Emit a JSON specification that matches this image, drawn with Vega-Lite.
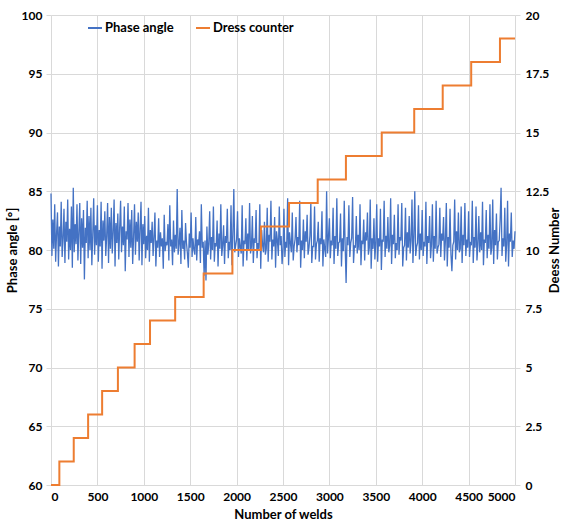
{
"$schema": "https://vega.github.io/schema/vega-lite/v6.json",
"width": 464, "height": 470,
"autosize": {"type": "none"},
"padding": {"left": 51, "top": 15, "right": 46, "bottom": 45},
"background": "white",
"config": {
 "font": "Lato",
 "view": {"stroke": null},
 "axis": {"gridColor": "#d9d9d9", "domain": false, "tickColor": "#d9d9d9", "tickSize": 5, "labelFont": "Lato", "labelFontWeight": "bold", "labelFontSize": 12, "labelColor": "#000", "titleFont": "Lato", "titleFontSize": 13, "titleFontWeight": "bold", "titleColor": "#000"},
 "legend": {"labelFont": "Lato"}
},
"layer": [
{
 "data": {"values": [
{"n":0,"a":84.8},{"n":10,"a":79.5},{"n":20,"a":82.6},{"n":30,"a":80.1},{"n":40,"a":83.9},{"n":50,"a":79.0},{"n":60,"a":81.4},{"n":70,"a":83.2},{"n":80,"a":78.6},{"n":90,"a":82.0},
{"n":100,"a":80.3},{"n":110,"a":84.1},{"n":120,"a":79.4},{"n":130,"a":81.0},{"n":140,"a":83.5},{"n":150,"a":78.9},{"n":160,"a":82.4},{"n":170,"a":80.7},{"n":180,"a":84.3},{"n":190,"a":79.2},
{"n":200,"a":81.8},{"n":210,"a":80.0},{"n":220,"a":83.7},{"n":230,"a":78.5},{"n":240,"a":85.3},{"n":250,"a":79.8},{"n":260,"a":82.2},{"n":270,"a":80.5},{"n":280,"a":83.9},{"n":290,"a":79.1},
{"n":300,"a":81.5},{"n":310,"a":84.0},{"n":320,"a":78.8},{"n":330,"a":82.7},{"n":340,"a":80.2},{"n":350,"a":83.4},{"n":360,"a":77.5},{"n":370,"a":81.9},{"n":380,"a":80.6},{"n":390,"a":84.2},
{"n":400,"a":79.3},{"n":410,"a":82.9},{"n":420,"a":80.0},{"n":430,"a":83.6},{"n":440,"a":78.7},{"n":450,"a":81.3},{"n":460,"a":84.4},{"n":470,"a":79.6},{"n":480,"a":82.1},{"n":490,"a":80.4},
{"n":500,"a":83.8},{"n":510,"a":79.0},{"n":520,"a":81.7},{"n":530,"a":80.3},{"n":540,"a":84.1},{"n":550,"a":78.4},{"n":560,"a":82.5},{"n":570,"a":80.8},{"n":580,"a":83.3},{"n":590,"a":79.5},
{"n":600,"a":81.2},{"n":610,"a":84.0},{"n":620,"a":78.9},{"n":630,"a":82.8},{"n":640,"a":80.1},{"n":650,"a":83.6},{"n":660,"a":79.7},{"n":670,"a":81.5},{"n":680,"a":84.3},{"n":690,"a":78.6},
{"n":700,"a":82.3},{"n":710,"a":80.6},{"n":720,"a":83.1},{"n":730,"a":79.2},{"n":740,"a":81.9},{"n":750,"a":84.2},{"n":760,"a":79.8},{"n":770,"a":82.0},{"n":780,"a":80.4},{"n":790,"a":83.7},
{"n":800,"a":78.2},{"n":810,"a":81.6},{"n":820,"a":80.9},{"n":830,"a":84.0},{"n":840,"a":79.4},{"n":850,"a":82.6},{"n":860,"a":80.2},{"n":870,"a":83.4},{"n":880,"a":78.8},{"n":890,"a":81.1},
{"n":900,"a":83.9},{"n":910,"a":79.6},{"n":920,"a":82.4},{"n":930,"a":80.7},{"n":940,"a":83.2},{"n":950,"a":79.1},{"n":960,"a":81.8},{"n":970,"a":84.1},{"n":980,"a":78.7},{"n":990,"a":82.2},
{"n":1000,"a":80.5},{"n":1010,"a":82.9},{"n":1020,"a":79.3},{"n":1030,"a":81.2},{"n":1040,"a":80.0},{"n":1050,"a":83.6},{"n":1060,"a":79.0},{"n":1070,"a":81.7},{"n":1080,"a":80.6},{"n":1090,"a":82.4},
{"n":1100,"a":79.5},{"n":1110,"a":81.1},{"n":1120,"a":83.2},{"n":1130,"a":78.6},{"n":1140,"a":80.8},{"n":1150,"a":80.2},{"n":1160,"a":82.7},{"n":1170,"a":79.4},{"n":1180,"a":81.5},{"n":1190,"a":80.3},
{"n":1200,"a":81.0},{"n":1210,"a":78.4},{"n":1220,"a":83.0},{"n":1230,"a":79.9},{"n":1240,"a":80.7},{"n":1250,"a":80.4},{"n":1260,"a":82.2},{"n":1270,"a":79.1},{"n":1280,"a":83.8},{"n":1290,"a":80.3},
{"n":1300,"a":80.9},{"n":1310,"a":78.7},{"n":1320,"a":82.5},{"n":1330,"a":79.8},{"n":1340,"a":81.3},{"n":1350,"a":80.1},{"n":1360,"a":85.2},{"n":1370,"a":79.6},{"n":1380,"a":80.5},{"n":1390,"a":81.9},
{"n":1400,"a":78.8},{"n":1410,"a":83.4},{"n":1420,"a":80.1},{"n":1430,"a":80.8},{"n":1440,"a":79.2},{"n":1450,"a":82.3},{"n":1460,"a":80.6},{"n":1470,"a":79.7},{"n":1480,"a":78.5},{"n":1490,"a":81.4},
{"n":1500,"a":80.2},{"n":1510,"a":83.2},{"n":1520,"a":79.4},{"n":1530,"a":81.0},{"n":1540,"a":80.0},{"n":1550,"a":79.6},{"n":1560,"a":82.8},{"n":1570,"a":79.1},{"n":1580,"a":80.9},{"n":1590,"a":80.4},
{"n":1600,"a":81.6},{"n":1610,"a":78.9},{"n":1620,"a":83.9},{"n":1630,"a":80.2},{"n":1640,"a":80.7},{"n":1650,"a":77.8},{"n":1660,"a":80.8},{"n":1670,"a":77.4},{"n":1680,"a":82.0},{"n":1690,"a":79.6},
{"n":1700,"a":80.5},{"n":1710,"a":83.3},{"n":1720,"a":79.2},{"n":1730,"a":81.1},{"n":1740,"a":80.0},{"n":1750,"a":83.7},{"n":1760,"a":79.0},{"n":1770,"a":80.6},{"n":1780,"a":80.3},{"n":1790,"a":82.5},
{"n":1800,"a":78.6},{"n":1810,"a":81.4},{"n":1820,"a":80.1},{"n":1830,"a":83.9},{"n":1840,"a":79.5},{"n":1850,"a":80.4},{"n":1860,"a":82.1},{"n":1870,"a":78.8},{"n":1880,"a":81.2},{"n":1890,"a":80.6},
{"n":1900,"a":83.5},{"n":1910,"a":79.3},{"n":1920,"a":80.7},{"n":1930,"a":80.0},{"n":1940,"a":83.8},{"n":1950,"a":78.7},{"n":1960,"a":81.3},{"n":1970,"a":85.2},{"n":1980,"a":79.8},{"n":1990,"a":80.4},
{"n":2000,"a":80.9},{"n":2010,"a":83.3},{"n":2020,"a":79.4},{"n":2030,"a":81.0},{"n":2040,"a":80.2},{"n":2050,"a":79.7},{"n":2060,"a":83.8},{"n":2070,"a":78.6},{"n":2080,"a":80.8},{"n":2090,"a":80.5},
{"n":2100,"a":82.7},{"n":2110,"a":79.1},{"n":2120,"a":81.4},{"n":2130,"a":80.0},{"n":2140,"a":84.0},{"n":2150,"a":79.7},{"n":2160,"a":80.3},{"n":2170,"a":82.9},{"n":2180,"a":78.9},{"n":2190,"a":81.0},
{"n":2200,"a":80.6},{"n":2210,"a":83.4},{"n":2220,"a":79.3},{"n":2230,"a":80.6},{"n":2240,"a":80.1},{"n":2250,"a":83.9},{"n":2260,"a":78.4},{"n":2270,"a":81.7},{"n":2280,"a":80.4},{"n":2290,"a":79.8},
{"n":2300,"a":82.4},{"n":2310,"a":79.6},{"n":2320,"a":80.1},{"n":2330,"a":83.6},{"n":2340,"a":79.0},{"n":2350,"a":81.3},{"n":2360,"a":80.7},{"n":2370,"a":84.2},{"n":2380,"a":79.2},{"n":2390,"a":80.9},
{"n":2400,"a":80.3},{"n":2410,"a":82.8},{"n":2420,"a":78.5},{"n":2430,"a":81.6},{"n":2440,"a":80.8},{"n":2450,"a":79.5},{"n":2460,"a":83.7},{"n":2470,"a":80.4},{"n":2480,"a":81.2},{"n":2490,"a":78.8},
{"n":2500,"a":80.0},{"n":2510,"a":83.5},{"n":2520,"a":79.4},{"n":2530,"a":80.7},{"n":2540,"a":80.2},{"n":2550,"a":84.4},{"n":2560,"a":78.7},{"n":2570,"a":81.5},{"n":2580,"a":80.6},{"n":2590,"a":79.8},
{"n":2600,"a":83.2},{"n":2610,"a":79.1},{"n":2620,"a":80.3},{"n":2630,"a":80.9},{"n":2640,"a":82.8},{"n":2650,"a":79.8},{"n":2660,"a":81.1},{"n":2670,"a":80.4},{"n":2680,"a":84.2},{"n":2690,"a":78.5},
{"n":2700,"a":80.8},{"n":2710,"a":80.0},{"n":2720,"a":82.6},{"n":2730,"a":79.3},{"n":2740,"a":81.6},{"n":2750,"a":80.7},{"n":2760,"a":83.0},{"n":2770,"a":79.6},{"n":2780,"a":80.2},{"n":2790,"a":81.2},
{"n":2800,"a":84.0},{"n":2810,"a":78.9},{"n":2820,"a":80.3},{"n":2830,"a":80.3},{"n":2840,"a":83.7},{"n":2850,"a":79.2},{"n":2860,"a":80.5},{"n":2870,"a":80.8},{"n":2880,"a":82.4},{"n":2890,"a":79.0},
{"n":2900,"a":81.0},{"n":2910,"a":80.5},{"n":2920,"a":83.3},{"n":2930,"a":78.6},{"n":2940,"a":80.9},{"n":2950,"a":80.1},{"n":2960,"a":79.4},{"n":2970,"a":85.0},{"n":2980,"a":79.7},{"n":2990,"a":81.1},
{"n":3000,"a":82.7},{"n":3010,"a":79.3},{"n":3020,"a":80.8},{"n":3030,"a":80.4},{"n":3040,"a":83.6},{"n":3050,"a":78.8},{"n":3060,"a":81.2},{"n":3070,"a":80.1},{"n":3080,"a":84.4},{"n":3090,"a":79.5},
{"n":3100,"a":80.6},{"n":3110,"a":80.7},{"n":3120,"a":83.1},{"n":3130,"a":78.6},{"n":3140,"a":81.0},{"n":3150,"a":79.9},{"n":3160,"a":84.2},{"n":3170,"a":80.3},{"n":3180,"a":77.2},{"n":3190,"a":81.1},
{"n":3200,"a":80.4},{"n":3210,"a":83.8},{"n":3220,"a":79.4},{"n":3230,"a":80.6},{"n":3240,"a":81.0},{"n":3250,"a":84.5},{"n":3260,"a":78.9},{"n":3270,"a":80.4},{"n":3280,"a":80.2},{"n":3290,"a":82.9},
{"n":3300,"a":79.7},{"n":3310,"a":81.3},{"n":3320,"a":80.0},{"n":3330,"a":83.9},{"n":3340,"a":78.7},{"n":3350,"a":80.8},{"n":3360,"a":80.5},{"n":3370,"a":82.6},{"n":3380,"a":79.1},{"n":3390,"a":81.5},
{"n":3400,"a":80.8},{"n":3410,"a":83.2},{"n":3420,"a":79.6},{"n":3430,"a":80.2},{"n":3440,"a":84.3},{"n":3450,"a":78.4},{"n":3460,"a":81.0},{"n":3470,"a":80.1},{"n":3480,"a":82.7},{"n":3490,"a":79.2},
{"n":3500,"a":80.6},{"n":3510,"a":83.9},{"n":3520,"a":79.0},{"n":3530,"a":81.0},{"n":3540,"a":80.3},{"n":3550,"a":83.5},{"n":3560,"a":78.3},{"n":3570,"a":80.9},{"n":3580,"a":80.7},{"n":3590,"a":84.2},
{"n":3600,"a":79.4},{"n":3610,"a":81.2},{"n":3620,"a":80.1},{"n":3630,"a":82.8},{"n":3640,"a":79.8},{"n":3650,"a":80.4},{"n":3660,"a":84.4},{"n":3670,"a":78.8},{"n":3680,"a":81.3},{"n":3690,"a":80.5},
{"n":3700,"a":83.0},{"n":3710,"a":79.3},{"n":3720,"a":80.6},{"n":3730,"a":80.0},{"n":3740,"a":83.9},{"n":3750,"a":79.6},{"n":3760,"a":81.1},{"n":3770,"a":80.8},{"n":3780,"a":84.0},{"n":3790,"a":78.6},
{"n":3800,"a":80.2},{"n":3810,"a":80.4},{"n":3820,"a":83.6},{"n":3830,"a":79.1},{"n":3840,"a":81.5},{"n":3850,"a":80.2},{"n":3860,"a":82.9},{"n":3870,"a":79.7},{"n":3880,"a":80.8},{"n":3890,"a":84.3},
{"n":3900,"a":78.9},{"n":3910,"a":81.1},{"n":3920,"a":85.0},{"n":3930,"a":79.5},{"n":3940,"a":80.3},{"n":3950,"a":80.6},{"n":3960,"a":83.8},{"n":3970,"a":79.2},{"n":3980,"a":81.4},{"n":3990,"a":80.0},
{"n":4000,"a":83.4},{"n":4010,"a":79.5},{"n":4020,"a":80.7},{"n":4030,"a":80.3},{"n":4040,"a":84.1},{"n":4050,"a":78.8},{"n":4060,"a":81.2},{"n":4070,"a":80.6},{"n":4080,"a":82.9},{"n":4090,"a":79.3},
{"n":4100,"a":80.5},{"n":4110,"a":83.9},{"n":4120,"a":79.0},{"n":4130,"a":81.2},{"n":4140,"a":80.1},{"n":4150,"a":84.2},{"n":4160,"a":79.7},{"n":4170,"a":80.2},{"n":4180,"a":80.5},{"n":4190,"a":83.6},
{"n":4200,"a":79.4},{"n":4210,"a":81.4},{"n":4220,"a":80.8},{"n":4230,"a":82.8},{"n":4240,"a":79.1},{"n":4250,"a":80.8},{"n":4260,"a":84.0},{"n":4270,"a":78.6},{"n":4280,"a":81.1},{"n":4290,"a":80.2},
{"n":4300,"a":83.5},{"n":4310,"a":79.6},{"n":4320,"a":78.2},{"n":4330,"a":80.4},{"n":4340,"a":80.7},{"n":4350,"a":84.3},{"n":4360,"a":79.2},{"n":4370,"a":81.6},{"n":4380,"a":80.0},{"n":4390,"a":83.2},
{"n":4400,"a":79.8},{"n":4410,"a":80.1},{"n":4420,"a":83.7},{"n":4430,"a":78.9},{"n":4440,"a":81.3},{"n":4450,"a":80.4},{"n":4460,"a":84.0},{"n":4470,"a":79.5},{"n":4480,"a":80.9},{"n":4490,"a":80.2},
{"n":4500,"a":83.3},{"n":4510,"a":79.4},{"n":4520,"a":80.6},{"n":4530,"a":80.5},{"n":4540,"a":84.2},{"n":4550,"a":78.9},{"n":4560,"a":81.1},{"n":4570,"a":80.2},{"n":4580,"a":83.7},{"n":4590,"a":79.1},
{"n":4600,"a":80.4},{"n":4610,"a":82.9},{"n":4620,"a":79.8},{"n":4630,"a":81.5},{"n":4640,"a":80.0},{"n":4650,"a":84.1},{"n":4660,"a":78.7},{"n":4670,"a":80.9},{"n":4680,"a":80.6},{"n":4690,"a":83.4},
{"n":4700,"a":79.3},{"n":4710,"a":81.3},{"n":4720,"a":80.1},{"n":4730,"a":83.9},{"n":4740,"a":79.6},{"n":4750,"a":80.2},{"n":4760,"a":84.3},{"n":4770,"a":78.8},{"n":4780,"a":81.7},{"n":4790,"a":80.4},
{"n":4800,"a":83.1},{"n":4810,"a":79.2},{"n":4820,"a":80.7},{"n":4830,"a":80.8},{"n":4840,"a":82.6},{"n":4850,"a":85.3},{"n":4860,"a":79.5},{"n":4870,"a":81.0},{"n":4880,"a":80.3},{"n":4890,"a":83.6},
{"n":4900,"a":79.0},{"n":4910,"a":80.5},{"n":4920,"a":84.2},{"n":4930,"a":78.6},{"n":4940,"a":81.4},{"n":4950,"a":80.7},{"n":4960,"a":83.2},{"n":4970,"a":79.4},{"n":4980,"a":80.8},{"n":4990,"a":80.1},
{"n":5000,"a":81.6}
 ]},
 "mark": {"type": "line", "strokeWidth": 1.3},
 "encoding": {
  "x": {"field": "n", "type": "quantitative", "scale": {"domain": [0, 5000], "nice": false},
        "axis": {"title": "Number of welds", "values": [0,500,1000,1500,2000,2500,3000,3500,4000,4500,5000], "ticks": false, "labelPadding": 6, "titlePadding": 6, "format": "d"}},
  "y": {"field": "a", "type": "quantitative", "scale": {"domain": [60, 100], "nice": false, "zero": false},
        "axis": {"title": "Phase angle [°]", "values": [60,65,70,75,80,85,90,95,100], "labelPadding": 4, "titleX": -39, "titleY": 235, "titleAngle": -90, "titleAlign": "center", "titleBaseline": "middle"}},
  "color": {"datum": "Phase angle", "type": "nominal",
            "scale": {"domain": ["Phase angle", "Dress counter"], "range": ["#4472C4", "#ED7D31"]},
            "legend": {"title": null, "orient": "none", "legendX": 36, "legendY": 5, "direction": "horizontal", "symbolType": "stroke", "symbolSize": 196, "symbolStrokeWidth": 2, "labelFontSize": 13, "labelFontWeight": "bold", "labelColor": "#000", "columnPadding": 18, "labelOffset": 2}}
 }
},
{
 "data": {"values": [
{"n":0,"d":0},{"n":90,"d":1},{"n":245,"d":2},{"n":400,"d":3},{"n":551,"d":4},{"n":721,"d":5},{"n":901,"d":6},{"n":1067,"d":7},{"n":1338,"d":8},{"n":1645,"d":9},{"n":1955,"d":10},{"n":2262,"d":11},{"n":2565,"d":12},{"n":2874,"d":13},{"n":3178,"d":14},{"n":3564,"d":15},{"n":3914,"d":16},{"n":4221,"d":17},{"n":4528,"d":18},{"n":4838,"d":19},{"n":5000,"d":19}
 ]},
 "mark": {"type": "line", "strokeWidth": 2, "interpolate": "step-after"},
 "encoding": {
  "x": {"field": "n", "type": "quantitative", "scale": {"domain": [0, 5000], "nice": false}},
  "y": {"field": "d", "type": "quantitative", "scale": {"domain": [0, 20], "nice": false},
        "axis": {"orient": "right", "title": "Deess Number", "grid": false, "values": [0,2.5,5,7.5,10,12.5,15,17.5,20], "format": ".1~f", "labelPadding": 5, "titleX": 39, "titleY": 235, "titleAngle": -90, "titleAlign": "center", "titleBaseline": "middle"}},
  "color": {"datum": "Dress counter", "type": "nominal"}
 }
}
],
"resolve": {"scale": {"y": "independent"}}
}
